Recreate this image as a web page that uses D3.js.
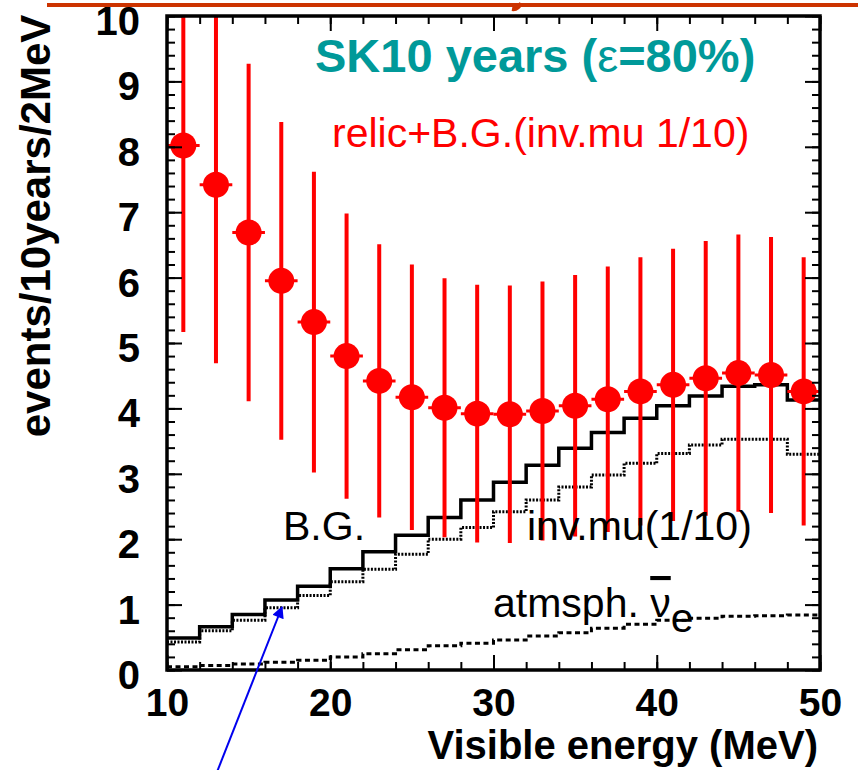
<!DOCTYPE html>
<html>
<head>
<meta charset="utf-8">
<script src="https://cdn.jsdelivr.net/npm/d3@7"></script>
<style>
  html, body { margin: 0; padding: 0; background: #fff; }
  svg { display: block; font-family: "Liberation Sans", Arial, sans-serif; }
</style>
</head>
<body>
<svg id="chart" width="858" height="770"></svg>
<script>
// bin centres (MeV), 2 MeV wide bins from 10 to 50
const energies = [11, 13, 15, 17, 19, 21, 23, 25, 27, 29, 31, 33, 35, 37, 39, 41, 43, 45, 47, 49];

// relic + B.G. (inv.mu 1/10) points and errors
const relic = [8.02, 7.42, 6.69, 5.95, 5.32, 4.80, 4.42, 4.17, 4.01, 3.92, 3.91, 3.96, 4.04, 4.14, 4.26, 4.36, 4.46, 4.54, 4.51, 4.26];
const relicErr = [2.85, 2.73, 2.58, 2.43, 2.30, 2.18, 2.09, 2.03, 1.98, 1.97, 1.97, 1.98, 2.00, 2.03, 2.05, 2.08, 2.10, 2.12, 2.11, 2.05];

// background histograms
const bgTotal = [0.49, 0.66, 0.85, 1.07, 1.28, 1.55, 1.81, 2.06, 2.33, 2.60, 2.87, 3.13, 3.39, 3.63, 3.85, 4.04, 4.19, 4.34, 4.36, 4.13];
const invMu = [0.43, 0.60, 0.76, 0.95, 1.14, 1.35, 1.54, 1.77, 2.00, 2.18, 2.42, 2.60, 2.80, 2.98, 3.16, 3.31, 3.44, 3.53, 3.53, 3.30];
const atmNue = [0.05, 0.07, 0.09, 0.12, 0.15, 0.20, 0.25, 0.31, 0.37, 0.41, 0.46, 0.52, 0.57, 0.64, 0.70, 0.76, 0.79, 0.82, 0.83, 0.84];

const xTicks = [10, 20, 30, 40, 50];
const yTicks = [0, 1, 2, 3, 4, 5, 6, 7, 8, 9, 10];

const binHalf = 1;
const svg = d3.select("#chart");
const margin = { top: 16, right: 38, bottom: 100, left: 167 };
const width = 858, height = 770;

const x = d3.scaleLinear().domain([10, 50]).range([margin.left, width - margin.right]);
const y = d3.scaleLinear().domain([0, 10]).range([height - margin.bottom, margin.top]);

// decoration line from the slide above
svg.append("line")
  .attr("x1", 47).attr("x2", 858).attr("y1", 5).attr("y2", 5)
  .attr("stroke", "#cc3300").attr("stroke-width", 4);
svg.append("path")
  .attr("d", "M512,9 Q518,10 521,3")
  .attr("fill", "none").attr("stroke", "#cc3300").attr("stroke-width", 4);

svg.append("clipPath").attr("id", "plotclip")
  .append("rect")
  .attr("x", x(10)).attr("y", y(10))
  .attr("width", x(50) - x(10)).attr("height", y(0) - y(10));

const plot = svg.append("g").attr("clip-path", "url(#plotclip)");

// histogram as steps
let histo = (vals) => {
  let pts = vals.map((v, i) => [energies[i] - binHalf, v]);
  pts.push([energies[energies.length - 1] + binHalf, vals[vals.length - 1]]);
  return d3.line().curve(d3.curveStepAfter).x(d => x(d[0])).y(d => y(d[1]))(pts);
};

plot.append("path").attr("d", histo(atmNue))
  .attr("fill", "none").attr("stroke", "#000").attr("stroke-width", 3)
  .attr("stroke-dasharray", "5,3.5");
plot.append("path").attr("d", histo(invMu))
  .attr("fill", "none").attr("stroke", "#000").attr("stroke-width", 3)
  .attr("stroke-dasharray", "2,1.5");
plot.append("path").attr("d", histo(bgTotal))
  .attr("fill", "none").attr("stroke", "#000").attr("stroke-width", 3.5);

// relic points with error bars
const pts = plot.append("g").selectAll("g").data(energies).join("g");
pts.append("line")
  .attr("x1", d => x(d)).attr("x2", d => x(d))
  .attr("y1", (d, i) => y(relic[i] - relicErr[i]))
  .attr("y2", (d, i) => y(relic[i] + relicErr[i]))
  .attr("stroke", "#ff0000").attr("stroke-width", 4);
pts.append("line")
  .attr("x1", d => x(d - binHalf)).attr("x2", d => x(d + binHalf))
  .attr("y1", (d, i) => y(relic[i])).attr("y2", (d, i) => y(relic[i]))
  .attr("stroke", "#ff0000").attr("stroke-width", 3);
pts.append("circle")
  .attr("cx", d => x(d)).attr("cy", (d, i) => y(relic[i]))
  .attr("r", 13).attr("fill", "#ff0000");

// axes, ticks inward
const minorX = d3.range(10, 50.01, 2);
const minorY = d3.range(0, 10.001, 0.2);

let styleAxis = g => {
  g.select(".domain").remove();
  g.selectAll("line").attr("stroke", "#000").attr("stroke-width", 2);
};

svg.append("g").attr("transform", `translate(0,${y(0)})`)
  .call(d3.axisBottom(x).tickValues(minorX).tickSize(-8).tickFormat(""))
  .call(styleAxis);
svg.append("g").attr("transform", `translate(0,${y(0)})`)
  .call(d3.axisBottom(x).tickValues(xTicks).tickSize(-15).tickPadding(18).tickFormat(d3.format("d")))
  .call(styleAxis)
  .call(g => g.selectAll("text").attr("font-size", 39).attr("font-weight", "bold").attr("fill", "#000"));
svg.append("g").attr("transform", `translate(0,${y(10)})`)
  .call(d3.axisTop(x).tickValues(minorX).tickSize(-8).tickFormat(""))
  .call(styleAxis);
svg.append("g").attr("transform", `translate(0,${y(10)})`)
  .call(d3.axisTop(x).tickValues(xTicks).tickSize(-15).tickFormat(""))
  .call(styleAxis);

svg.append("g").attr("transform", `translate(${x(10)},0)`)
  .call(d3.axisLeft(y).tickValues(minorY).tickSize(-8).tickFormat(""))
  .call(styleAxis);
svg.append("g").attr("transform", `translate(${x(10)},0)`)
  .call(d3.axisLeft(y).tickValues(yTicks).tickSize(-15).tickPadding(27).tickFormat(d3.format("d")))
  .call(styleAxis)
  .call(g => g.selectAll("text").attr("font-size", 40).attr("font-weight", "bold").attr("fill", "#000").attr("dy", "0.46em"));
svg.append("g").attr("transform", `translate(${x(50)},0)`)
  .call(d3.axisRight(y).tickValues(minorY).tickSize(-8).tickFormat(""))
  .call(styleAxis);
svg.append("g").attr("transform", `translate(${x(50)},0)`)
  .call(d3.axisRight(y).tickValues(yTicks).tickSize(-15).tickFormat(""))
  .call(styleAxis);

// frame
svg.append("rect")
  .attr("x", x(10)).attr("y", y(10))
  .attr("width", x(50) - x(10)).attr("height", y(0) - y(10))
  .attr("fill", "none").attr("stroke", "#000").attr("stroke-width", 3.5);

// axis titles
svg.append("text")
  .attr("transform", `translate(50,${226}) rotate(-90)`)
  .attr("text-anchor", "middle")
  .attr("font-size", 42).attr("font-weight", "bold")
  .text("events/10years/2MeV");
svg.append("text")
  .attr("x", 818).attr("y", 759)
  .attr("text-anchor", "end")
  .attr("font-size", 40).attr("font-weight", "bold")
  .text("Visible energy (MeV)");

// annotations
let sk = svg.append("text")
  .attr("x", 315).attr("y", 72)
  .attr("font-size", 47).attr("font-weight", "bold").attr("fill", "#009999");
sk.append("tspan").text("SK10 years (");
sk.append("tspan").attr("font-weight", "normal").text("ε");
sk.append("tspan").text("=80%)");
svg.append("text")
  .attr("x", 332).attr("y", 147)
  .attr("font-size", 41).attr("fill", "#ff0000")
  .text("relic+B.G.(inv.mu 1/10)");
svg.append("text")
  .attr("x", 283).attr("y", 540)
  .attr("font-size", 41).attr("fill", "#000")
  .text("B.G.");
svg.append("text")
  .attr("x", 527).attr("y", 540)
  .attr("font-size", 41).attr("fill", "#000")
  .text("inv.mu(1/10)");
let atm = svg.append("text")
  .attr("x", 493).attr("y", 617)
  .attr("font-size", 41).attr("fill", "#000");
atm.append("tspan").text("atmsph. ");
atm.append("tspan").attr("text-decoration", "overline").text("ν");
atm.append("tspan").attr("dy", 15).text("e");

// blue arrow
svg.append("defs").append("marker")
  .attr("id", "arrowhead").attr("viewBox", "0 0 10 10")
  .attr("refX", 9).attr("refY", 5)
  .attr("markerWidth", 14).attr("markerHeight", 12)
  .attr("markerUnits", "userSpaceOnUse")
  .attr("orient", "auto")
  .append("path").attr("d", "M0,0 L10,5 L0,10 z").attr("fill", "#0000ee");
svg.append("line")
  .attr("x1", 217).attr("y1", 772).attr("x2", 282).attr("y2", 607)
  .attr("stroke", "#0000ee").attr("stroke-width", 2)
  .attr("marker-end", "url(#arrowhead)");
</script>
</body>
</html>
